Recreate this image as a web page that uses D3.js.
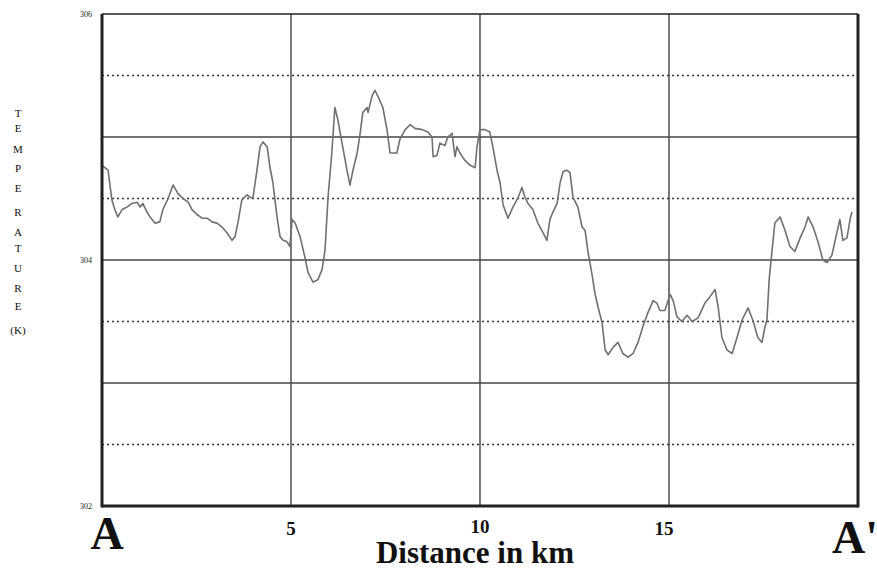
<!DOCTYPE html>
<html>
<head>
<meta charset="utf-8">
<script src="https://cdn.jsdelivr.net/npm/d3@7/dist/d3.min.js"></script>
<style>
html,body{margin:0;padding:0;background:#fff;}
svg{display:block;}
</style>
</head>
<body>
<svg id="chart" width="877" height="571"></svg>
<script>
// ---- data ----
const distanceKm = [0,0.16,0.26,0.34,0.42,0.53,0.66,0.79,0.93,1.01,1.08,1.19,1.27,1.40,1.53,1.61,1.75,1.88,2.01,2.14,2.28,2.38,2.51,2.65,2.78,2.91,3.04,3.17,3.31,3.44,3.52,3.60,3.70,3.84,3.92,3.99,4.10,4.18,4.26,4.37,4.44,4.52,4.63,4.71,4.79,4.89,4.97,5.03,5.11,5.24,5.37,5.45,5.58,5.71,5.82,5.90,5.98,6.08,6.16,6.24,6.35,6.48,6.56,6.64,6.75,6.83,6.90,7.01,7.04,7.14,7.22,7.30,7.43,7.54,7.62,7.80,7.88,8.02,8.15,8.28,8.47,8.62,8.73,8.76,8.86,8.94,9.07,9.15,9.26,9.34,9.39,9.47,9.60,9.74,9.87,9.92,10.00,10.13,10.26,10.34,10.45,10.53,10.61,10.74,10.87,11.01,11.11,11.19,11.27,11.40,11.53,11.67,11.77,11.85,11.93,12.04,12.12,12.20,12.30,12.38,12.46,12.59,12.70,12.78,12.86,12.96,13.04,13.12,13.23,13.31,13.39,13.52,13.65,13.78,13.92,14.05,14.18,14.31,14.44,14.58,14.68,14.76,14.89,15.03,15.11,15.21,15.34,15.48,15.61,15.77,15.95,16.08,16.22,16.30,16.40,16.53,16.67,16.80,16.93,17.09,17.22,17.35,17.46,17.54,17.59,17.65,17.72,17.80,17.94,18.07,18.20,18.33,18.47,18.60,18.68,18.81,18.94,19.07,19.18,19.31,19.44,19.52,19.60,19.71,19.79,19.84];
const temperatureK = [304.77,304.73,304.49,304.41,304.35,304.41,304.43,304.46,304.47,304.43,304.46,304.39,304.35,304.30,304.31,304.41,304.50,304.61,304.54,304.50,304.47,304.41,304.37,304.34,304.34,304.31,304.30,304.27,304.22,304.16,304.19,304.31,304.49,304.53,304.51,304.50,304.73,304.92,304.96,304.92,304.76,304.63,304.35,304.19,304.16,304.15,304.11,304.33,304.30,304.19,304.02,303.90,303.82,303.84,303.92,304.08,304.51,304.87,305.24,305.14,304.95,304.73,304.61,304.73,304.87,305.03,305.20,305.24,305.20,305.33,305.38,305.33,305.24,305.06,304.87,304.87,304.98,305.06,305.10,305.07,305.06,305.04,305.00,304.84,304.85,304.95,304.93,305.00,305.03,304.84,304.92,304.87,304.81,304.77,304.75,304.92,305.06,305.06,305.04,304.92,304.73,304.63,304.45,304.34,304.43,304.51,304.59,304.51,304.46,304.41,304.30,304.22,304.16,304.33,304.39,304.46,304.63,304.72,304.73,304.71,304.51,304.43,304.27,304.24,304.06,303.89,303.73,303.62,303.49,303.27,303.23,303.29,303.33,303.24,303.21,303.24,303.33,303.46,303.57,303.67,303.65,303.59,303.59,303.72,303.67,303.54,303.50,303.55,303.50,303.53,303.65,303.70,303.76,303.62,303.37,303.27,303.24,303.37,303.51,303.61,303.51,303.37,303.33,303.46,303.51,303.84,304.06,304.30,304.35,304.24,304.11,304.07,304.18,304.27,304.35,304.27,304.15,304.00,303.98,304.04,304.22,304.33,304.16,304.18,304.33,304.39];

const xTickValues = [0, 5, 10, 15, 20];
const xTickLabels = ["A", "5", "10", "15", "A'"];
const yTickValues = [306, 304, 302];
const yTickLabels = ["306", "304", "302"];
const ySolidGrid = [305, 304, 303];
const yDottedGrid = [305.5, 304.5, 303.5, 302.5];
const xGrid = [5, 10, 15];
const yTitleLetters = ["T","E","M","P","E","R","A","T","U","R","E","(K)"];
const xTitle = "Distance in km";

// ---- scales ----
const x = d3.scaleLinear().domain([0, 20]).range([102, 858]);
const y = d3.scaleLinear().domain([302, 306]).range([506, 14]);

const svg = d3.select("#chart");
const serif = "'Liberation Serif','DejaVu Serif',serif";

// gridlines
svg.selectAll("line.vgrid").data(xGrid).enter().append("line")
  .attr("x1", d => x(d)).attr("x2", d => x(d))
  .attr("y1", y(306)).attr("y2", y(302))
  .attr("stroke", "#333").attr("stroke-width", 1.3);

svg.selectAll("line.hsolid").data(ySolidGrid).enter().append("line")
  .attr("x1", x(0)).attr("x2", x(20))
  .attr("y1", d => y(d)).attr("y2", d => y(d))
  .attr("stroke", "#444").attr("stroke-width", 1.6);

svg.selectAll("line.hdot").data(yDottedGrid).enter().append("line")
  .attr("x1", x(0)).attr("x2", x(20))
  .attr("y1", d => y(d)).attr("y2", d => y(d))
  .attr("stroke", "#333").attr("stroke-width", 1.6)
  .attr("stroke-dasharray", "2,3");

// data line
const pts = distanceKm.map((d, i) => [d, temperatureK[i]]);
svg.append("path")
  .datum(pts)
  .attr("fill", "none")
  .attr("stroke", "#707070")
  .attr("stroke-width", 1.6)
  .attr("stroke-linejoin", "round")
  .attr("d", d3.line().x(d => x(d[0])).y(d => y(d[1])));

// frame
svg.append("line").attr("x1", x(0)).attr("x2", x(20)).attr("y1", y(306)).attr("y2", y(306))
  .attr("stroke", "#222").attr("stroke-width", 1.5);
svg.append("line").attr("x1", x(0)).attr("x2", x(20)).attr("y1", y(302)).attr("y2", y(302))
  .attr("stroke", "#222").attr("stroke-width", 3);
svg.append("line").attr("x1", x(0)).attr("x2", x(0)).attr("y1", y(306)).attr("y2", y(302) + 1.5)
  .attr("stroke", "#222").attr("stroke-width", 3);
svg.append("line").attr("x1", x(20)).attr("x2", x(20)).attr("y1", y(306)).attr("y2", y(302) + 1.5)
  .attr("stroke", "#222").attr("stroke-width", 3);

// y tick labels
svg.selectAll("text.ytick").data(yTickValues).enter().append("text")
  .attr("x", 92).attr("y", d => y(d) + 3)
  .attr("text-anchor", "end")
  .attr("font-family", serif).attr("font-size", 8).attr("fill", "#222")
  .text((d, i) => yTickLabels[i]);

// x tick labels
const xLabelSize = [46, 19, 19, 19, 46];
const xLabelDx = [5, 0, 0, -5, -3];
const xLabelY = [549, 535, 533, 535, 553];
svg.selectAll("text.xtick").data(xTickValues).enter().append("text")
  .attr("x", (d, i) => x(d) + xLabelDx[i]).attr("y", (d, i) => xLabelY[i])
  .attr("text-anchor", "middle")
  .attr("font-family", serif).attr("font-weight", "bold")
  .attr("font-size", (d, i) => xLabelSize[i]).attr("fill", "#111")
  .text((d, i) => xTickLabels[i]);

// x title
svg.append("text").attr("x", 475).attr("y", 563)
  .attr("text-anchor", "middle")
  .attr("font-family", serif).attr("font-weight", "bold").attr("font-size", 31).attr("fill", "#111")
  .text(xTitle);

// y title (stacked letters)
const letterY = [117,132,153,172,192,216,236,252,272,292,310,334];
svg.selectAll("text.ytitle").data(yTitleLetters).enter().append("text")
  .attr("x", 18).attr("y", (d, i) => letterY[i])
  .attr("text-anchor", "middle")
  .attr("font-family", serif).attr("font-size", 11).attr("fill", "#111")
  .text(d => d);
</script>
</body>
</html>
